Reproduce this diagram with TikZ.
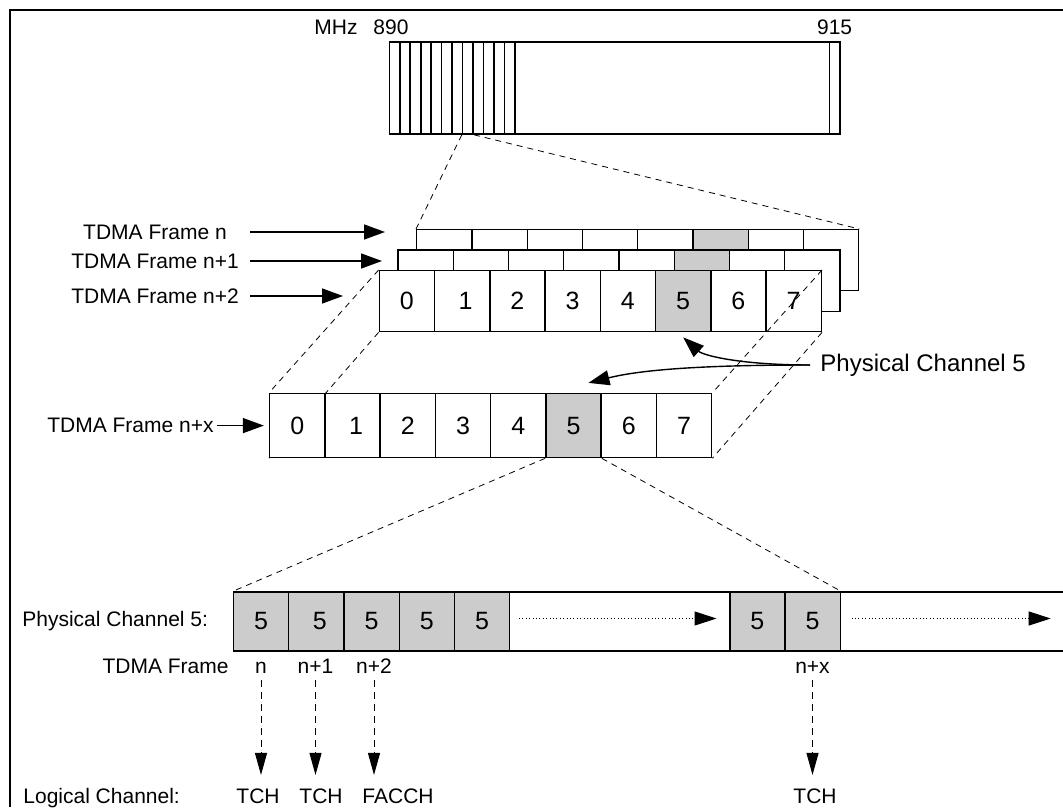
\documentclass[tikz,border=0pt]{standalone}
\usepackage{fontspec}
\setmainfont{Liberation Sans}
\usepackage{tikz}
\usetikzlibrary{arrows.meta}
\definecolor{slotGray}{RGB}{204,204,204}
\pgfdeclarelayer{back}
\pgfsetlayers{back,main}

\begin{document}
\begin{tikzpicture}[x=0.5pt, y=-0.5pt,
  slot/.style={draw, line width=0.7pt, fill=white, minimum width=27.625pt, minimum height=30.5pt, inner sep=0pt, font=\fontsize{12.5}{15}\selectfont},
  chan/.style={draw, line width=0.8pt, minimum height=46pt, inner sep=0pt},
  txt/.style={inner sep=0pt, font=\fontsize{10.5}{12.6}\selectfont},
  framelbl/.style={txt, minimum width=85pt},
  zoomln/.style={line width=0.4pt, dash pattern=on 3pt off 2.5pt},
  pointer/.style={line width=0.7pt, -{Triangle[length=10.5pt, width=7.5pt]}},
  downflow/.style={line width=0.5pt, dash pattern=on 3.5pt off 2.5pt, -{Triangle[length=11pt, width=6pt]}},
  dotflow/.style={line width=0.5pt, dash pattern=on 0.5pt off 1.2pt, -{Triangle[length=11pt, width=7pt]}}]
\useasboundingbox (0,0) rectangle (1063,807);
\draw[line width=1.1pt] (10,807) -- (10,10) -- (1063,10);

% frequency band 890-915
\node[chan, minimum width=225.35pt] (band) at (614.65,88) {};
\foreach \i in {0,...,11}
  \node[chan, minimum width=5.24pt] (ch\i) at ({394.54+10.475*\i},88) {};
\node[chan, minimum width=5.35pt] (chz) at (834.65,88) {};
\node[txt, anchor=base] (f890) at (391,35) {890};
\node[txt, anchor=base] (f915) at (834.6,35) {915};
\node[txt, anchor=base] (mhz) at (336,35) {MHz};

% stacked TDMA frames n, n+1, n+2
\foreach \k in {0,1,2} {
  \foreach \i/\c in {0/white,1/white,2/white,3/white,4/white,5/slotGray,6/white,7/white}
    \node[slot, fill=\c] (f\k-\i) at ({379.3+18.7*(2-\k)+55.25*(\i+0.5)}, {301.2-20.5*(2-\k)}) {};
}
\foreach \i in {0,...,7}
  \node[txt, font=\fontsize{12.5}{15}\selectfont] (d\i) at (f2-\i) {\ifnum\i=1\ \fi\i};
\draw[zoomln] (ch7.south west) -- (f0-0.north west);
\draw[zoomln] (ch7.south east) -- (f0-7.north east);

\node[framelbl] (tn0) at (155,232) {TDMA Frame n};
\node[framelbl] (tn1) at (155,261) {TDMA Frame n+1};
\node[framelbl] (tn2) at (155,296) {TDMA Frame n+2};
\coordinate (e0) at (385,232);
\coordinate (e1) at (382,261);
\coordinate (e2) at (343,296);
\foreach \k in {0,1,2}
  \draw[pointer, shorten <=5pt] (tn\k.east) -- (e\k);

% frame n+x
\foreach \i/\c in {0/white,1/white,2/white,3/white,4/white,5/slotGray,6/white,7/white}
  \node[slot, minimum height=32pt, fill=\c] (x\i) at ({269.6+55.25*(\i+0.5)},425.6) {\ifnum\i=1\ \fi\i};
\begin{pgfonlayer}{back}
\draw[zoomln] (f2-0.south west) -- (x0.south west);
\end{pgfonlayer}
\draw[zoomln] (f2-0.north west) -- (x0.north west);
\draw[zoomln] (f2-7.north east) -- (x7.north east);
\draw[zoomln] (f2-7.south east) -- (x7.south east);

\node[txt, anchor=east] (tnx) at (214,425.6) {TDMA Frame n+x};
\draw[pointer, shorten <=1.5pt, shorten >=2.5pt] (tnx.east) -- (x0.west);

\node[txt, anchor=west, font=\fontsize{12}{14}\selectfont] (pc) at (820,365) {Physical Channel 5};
\coordinate (hit1) at ([yshift=-2.5pt]f2-5.south);
\coordinate (hit2) at ([shift={(7.5pt,5pt)}]x5.north);
\draw[pointer] ([xshift=-5pt]pc.west) .. controls +(-70,0) and +(20,18) .. (hit1);
\draw[pointer] ([xshift=-5pt]pc.west) .. controls +(-110,0) and +(52,-13) .. (hit2);

% physical channel 5 over time
\foreach \i in {0,...,4}
  \node[slot, minimum height=29.5pt, fill=slotGray] (r\i) at ({233.5+55.25*(\i+0.5)},621.5) {\ifnum\i=1\ \fi5};
\node[slot, minimum width=110.03pt, minimum height=29.5pt] (gap1) at (619.78,621.5) {};
\node[slot, minimum height=29.5pt, fill=slotGray] (r5) at (757.43,621.5) {5};
\node[slot, minimum height=29.5pt, fill=slotGray] (r6) at (812.68,621.5) {5};
\node[slot, minimum width=112.85pt, minimum height=29.5pt] (gap2) at (953.15,621.5) {};
\draw[dotflow] ([shift={(5pt,1.5pt)}]gap1.west) -- ([shift={(-7pt,1.5pt)}]gap1.east);
\draw[dotflow] ([shift={(6pt,1.5pt)}]gap2.west) -- ([shift={(-8pt,1.5pt)}]gap2.east);
\draw[zoomln] (x5.south west) -- (r0.north west);
\draw[zoomln] (x5.south east) -- (r6.north east);

\node[txt, anchor=west] (pcl) at (22,621.5) {Physical Channel 5:};
\node[txt, anchor=base east] (tdl) at (229,673) {TDMA Frame};
\node[txt, anchor=base] (fn0) at (261,673) {n};
\node[txt, anchor=base] (fn1) at (315.5,673) {n+1};
\node[txt, anchor=base] (fn2) at (374,673) {n+2};
\node[txt, anchor=base] (fnx) at (812.5,673) {n+x};
\node[txt, anchor=base west] (lcl) at (23,803) {Logical Channel:};
\node[txt, anchor=base] (lc0) at (258,803) {TCH};
\node[txt, anchor=base] (lc1) at (321,803) {TCH};
\node[txt, anchor=base] (lc2) at (398,803) {FACCH};
\node[txt, anchor=base] (lcx) at (815,803) {TCH};
\foreach \a/\b in {fn0/lc0, fn1/lc1, fn2/lc2, fnx/lcx}
  \draw[downflow, shorten <=3.5pt, shorten >=6.5pt] (\a.south) -- (\a.south |- \b.north);
\end{tikzpicture}
\end{document}
